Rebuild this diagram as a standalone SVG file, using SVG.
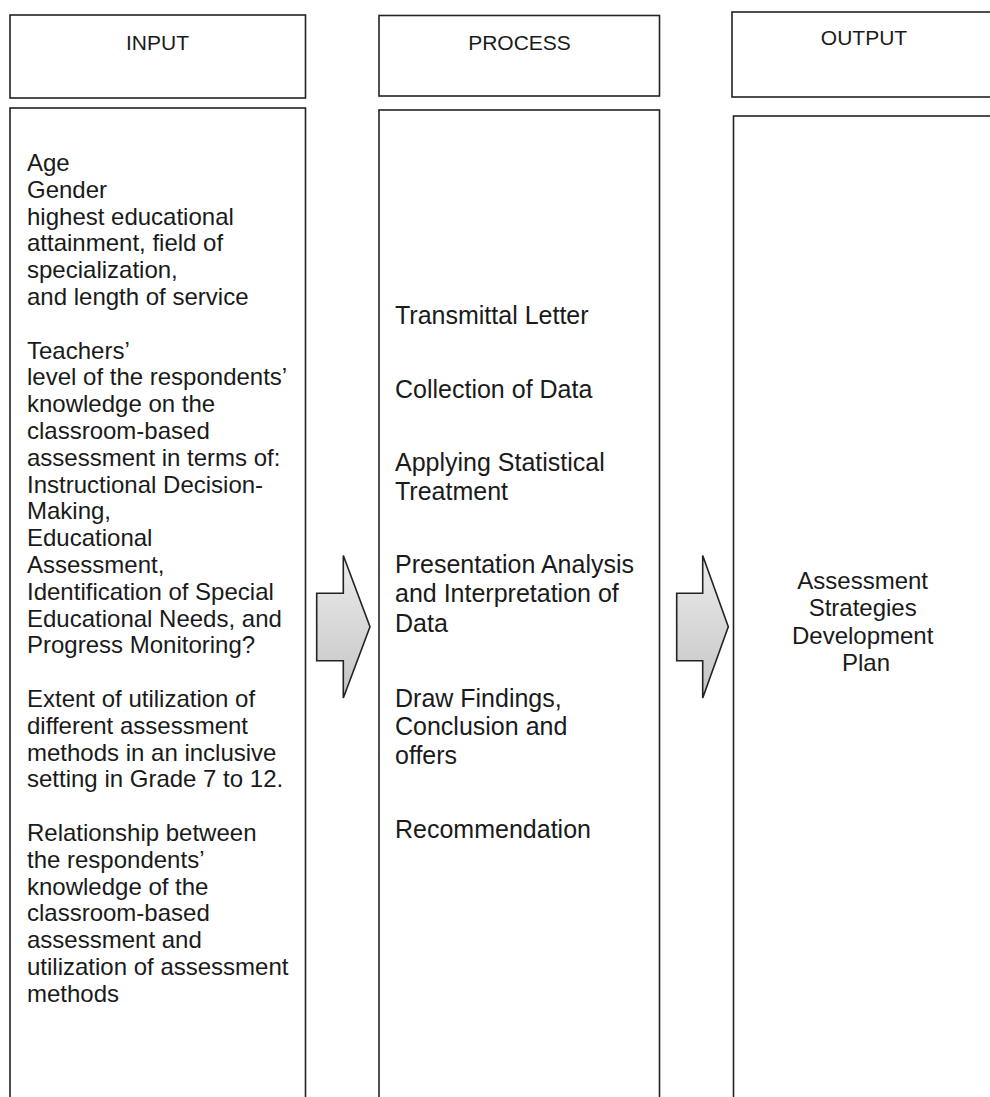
<svg xmlns="http://www.w3.org/2000/svg" width="990" height="1097" viewBox="0 0 990 1097">
<style>
.box{fill:#fff;stroke:#222;stroke-width:1.6}
.hdr{font-family:"Liberation Sans",Arial,sans-serif;font-size:21px;fill:#1a1a1a;text-anchor:middle}
.in{font-family:"Liberation Sans",Arial,sans-serif;font-size:24px;fill:#1a1a1a}
.pr{font-family:"Liberation Sans",Arial,sans-serif;font-size:25px;fill:#1a1a1a}
.out{font-family:"Liberation Sans",Arial,sans-serif;font-size:24px;fill:#1a1a1a;text-anchor:middle}
.arr{fill:url(#g);stroke:#222;stroke-width:1.6;stroke-linejoin:miter}
</style>
<defs>
<linearGradient id="g" x1="0" y1="0" x2="0" y2="1">
<stop offset="0" stop-color="#ececec"/>
<stop offset="1" stop-color="#c4c4c4"/>
</linearGradient>
</defs>
<rect width="990" height="1097" fill="#fff"/>
<g id="input">
<rect class="box" x="10" y="15" width="295.5" height="83"/>
<text class="hdr" x="157.5" y="50">INPUT</text>
<rect class="box" x="10" y="108" width="295.5" height="1010"/>
<text class="in">
<tspan x="27" y="171">Age</tspan>
<tspan x="27" y="197.8">Gender</tspan>
<tspan x="27" y="224.6">highest educational</tspan>
<tspan x="27" y="251.4">attainment, field of</tspan>
<tspan x="27" y="278.2">specialization,</tspan>
<tspan x="27" y="305">and length of service</tspan>
<tspan x="27" y="358.6">Teachers’</tspan>
<tspan x="27" y="385.4">level of the respondents’</tspan>
<tspan x="27" y="412.2">knowledge on the</tspan>
<tspan x="27" y="439">classroom-based</tspan>
<tspan x="27" y="465.8">assessment in terms of:</tspan>
<tspan x="27" y="492.6">Instructional Decision-</tspan>
<tspan x="27" y="519.4">Making,</tspan>
<tspan x="27" y="546.2">Educational</tspan>
<tspan x="27" y="573">Assessment,</tspan>
<tspan x="27" y="599.8">Identification of Special</tspan>
<tspan x="27" y="626.6">Educational Needs, and</tspan>
<tspan x="27" y="653.4">Progress Monitoring?</tspan>
<tspan x="27" y="707">Extent of utilization of</tspan>
<tspan x="27" y="733.8">different assessment</tspan>
<tspan x="27" y="760.6">methods in an inclusive</tspan>
<tspan x="27" y="787.4">setting in Grade 7 to 12.</tspan>
<tspan x="27" y="841">Relationship between</tspan>
<tspan x="27" y="867.8">the respondents’</tspan>
<tspan x="27" y="894.6">knowledge of the</tspan>
<tspan x="27" y="921.4">classroom-based</tspan>
<tspan x="27" y="948.2">assessment and</tspan>
<tspan x="27" y="975">utilization of assessment</tspan>
<tspan x="27" y="1001.8">methods</tspan>
</text>
</g>
<g id="process">
<rect class="box" x="379" y="15.5" width="280.5" height="80.5"/>
<text class="hdr" x="519.5" y="49.5">PROCESS</text>
<rect class="box" x="379" y="110" width="280.5" height="1010"/>
<text class="pr">
<tspan x="395" y="324">Transmittal Letter</tspan>
<tspan x="395" y="397.5">Collection of Data</tspan>
<tspan x="395" y="470.5">Applying Statistical</tspan>
<tspan x="395" y="500">Treatment</tspan>
<tspan x="395" y="572.5">Presentation Analysis</tspan>
<tspan x="395" y="602">and Interpretation of</tspan>
<tspan x="395" y="631.5">Data</tspan>
<tspan x="395" y="706.5">Draw Findings,</tspan>
<tspan x="395" y="735">Conclusion and</tspan>
<tspan x="395" y="764">offers</tspan>
<tspan x="395" y="838">Recommendation</tspan>
</text>
</g>
<g id="output">
<rect class="box" x="732" y="12" width="280" height="85"/>
<text class="hdr" x="864" y="45">OUTPUT</text>
<rect class="box" x="733.5" y="116" width="280" height="1010"/>
<text class="out">
<tspan x="866" y="588.5">Assessment</tspan>
<tspan x="866" y="616">Strategies</tspan>
<tspan x="866" y="643.5">Development</tspan>
<tspan x="866" y="671">Plan</tspan>
</text>
</g>
<g id="connectors">
<polygon class="arr" points="316.7,593.3 343.3,593.3 343.3,555.5 370,626.7 343.3,698 343.3,660.7 316.7,660.7"/>
<polygon class="arr" points="676.7,593.3 702.7,593.3 702.7,555.5 728.3,626.7 702.7,698 702.7,660.7 676.7,660.7"/>
</g>
</svg>
